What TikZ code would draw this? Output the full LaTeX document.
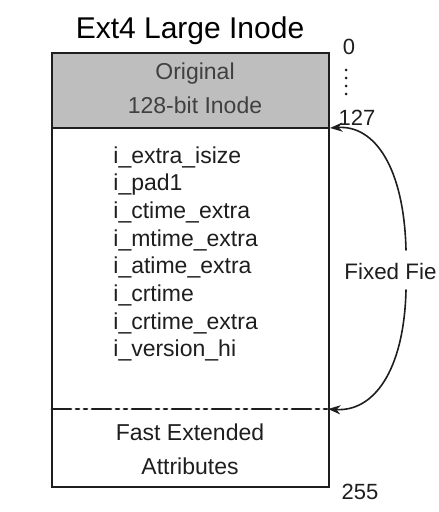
\documentclass[tikz,border=0pt]{standalone}
\usepackage{fontspec}
\setmainfont{Liberation Sans}
\usetikzlibrary{positioning, arrows.meta, calc}

\begin{document}
\begin{tikzpicture}[
    x=0.5pt, y=-0.5pt,
    >={Stealth[length=2.2mm,width=1.6mm]},
    every path/.style={line cap=round},
]
% ── Colours ──
\definecolor{hdrbg}{HTML}{BEBEBE}
\definecolor{textc}{HTML}{1E1E1E}

% ── Styles ──
\tikzset{
    inode-part/.style={
        draw=textc, rectangle, line width=1pt,
        minimum width=277*0.5pt, inner sep=0pt,
    },
    field/.style={anchor=west, font=\fontsize{11.5}{13}\selectfont, text=textc, inner sep=0pt},
    blabel/.style={font=\fontsize{11.5}{13}\selectfont, text=textc, inner sep=0pt, align=center},
    offset/.style={font=\fontsize{11}{13}\selectfont, text=textc, inner sep=0pt},
    span-arrow/.style={->, line width=0.8pt, draw=textc},
}

\useasboundingbox (0,0) rectangle (438,512);

% ── Title ──
\node[font=\fontsize{15}{18}\selectfont, inner sep=0pt] (title) at (190,31) {Ext4 Large Inode};

% ── Inode body ──
\node[inode-part, minimum height=359*0.5pt, anchor=north west] (body) at (51,127) {};
\node[inode-part, fill=hdrbg, minimum height=75*0.5pt, anchor=north west] (orig) at (51,52) {};
\node[blabel, text=textc!85] (origtxt) at (195,88) {Original\\[4pt]128-bit Inode};

% ── Fixed fields ──
\foreach \fname [count=\i from 0] in {i\_extra\_isize, i\_pad1, i\_ctime\_extra,
        i\_mtime\_extra, i\_atime\_extra, i\_crtime, i\_crtime\_extra, i\_version\_hi}
    \node[field] (f\i) at (113,{157+27.7*\i}) {\fname};

% ── Split line ──
\coordinate (dashl) at (52,409);
\coordinate (dashr) at (328,409);
\draw[line width=1.4pt, draw=textc, dash pattern=on 9.5pt off 2.5pt on 1.5pt off 2.5pt on 1.5pt off 2.5pt]
    (dashl) -- (dashr);
\node[blabel] (xattr) at (190,449) {Fast Extended\\[4pt]Attributes};

% ── Offsets ──
\node[offset] (off0) at (349,47) {0};
\foreach \k in {0,...,3}
    \fill[textc] (346,{70+8*\k}) circle (1.5);
\node[offset] (off127) at (357,118) {127};
\node[offset] (off255) at (360,492) {255};

% ── Fixed field span ──
\coordinate (top127) at (330,128);
\coordinate (spant) at (406,250);
\coordinate (spanb) at (406,290);
\draw[span-arrow] (spant) .. controls +(-2,-82) and +(45,-3) .. (top127);
\draw[span-arrow] (spanb) .. controls +(-2,82) and +(45,3) .. (dashr);
\node[offset, anchor=west, font=\fontsize{11.2}{13}\selectfont] (fixed) at (344,271) {Fixed Fie};
\end{tikzpicture}
\end{document}
